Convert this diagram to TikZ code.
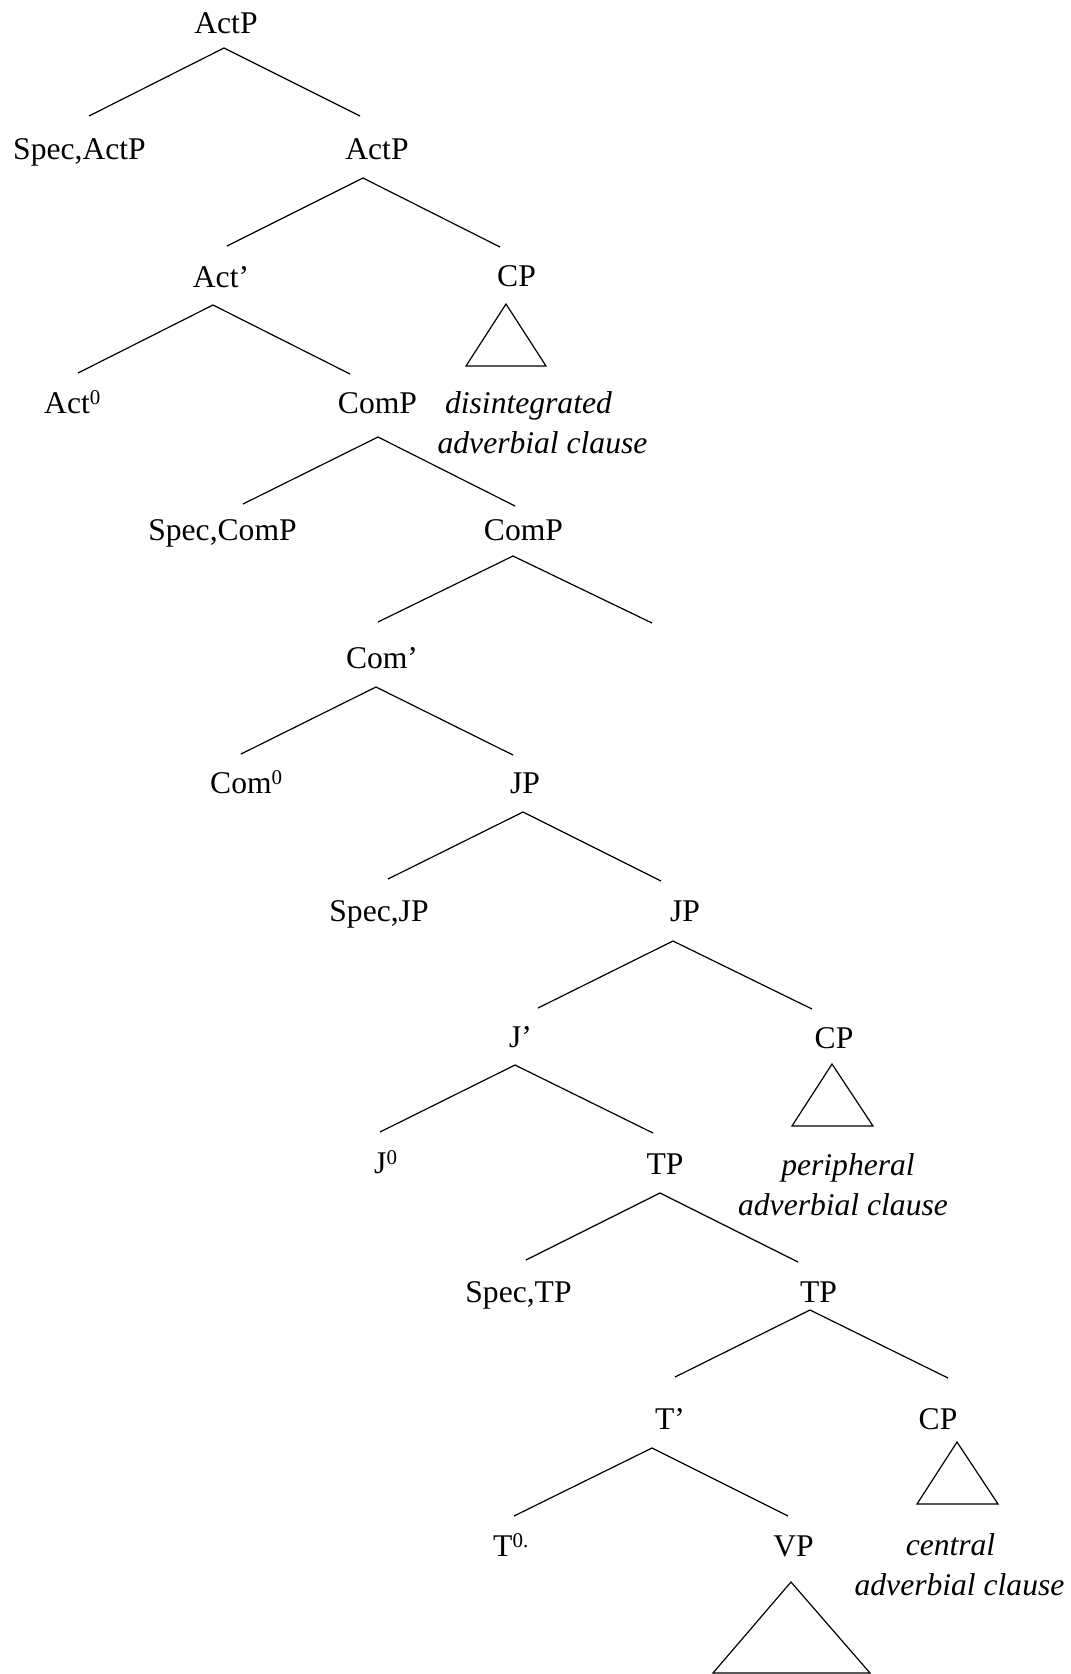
\documentclass[tikz,border=0pt]{standalone}
\usepackage{fontspec}
\setmainfont{Liberation Serif}
\newcommand{\supz}[1]{\raisebox{9pt}{\fontsize{21}{22}\selectfont #1}}
\begin{document}
\begin{tikzpicture}[x=1pt,y=-1pt,
  lbl/.style={anchor=base, inner sep=0pt, font=\fontsize{31.6}{38}\selectfont},
  lblw/.style={lbl, anchor=base west},
  itl/.style={lbl, font=\fontsize{31.6}{38}\selectfont\itshape},
  branch/.style={line width=1.2pt},
  tri/.style={line width=1.2pt, line join=miter}]
\useasboundingbox (0,0) rectangle (1071,1674);

% labels
\node[lbl]  (actp)    at (226,33)    {ActP};
\node[lbl]  (specact) at (79.5,159)  {Spec,ActP};
\node[lbl]  (actpb)   at (377,159)   {ActP};
\node[lbl]  (actbar)  at (221,287)   {Act’};
\node[lbl]  (cpa)     at (516.5,286) {CP};
\node[lblw] (acthead) at (44,413)    {Act\supz{0}};
\node[lbl]  (compa)   at (377.5,413) {ComP};
\node[itl]  (disa)    at (528.5,413) {disintegrated};
\node[itl]  (disb)    at (542.5,453) {adverbial clause};
\node[lbl]  (speccom) at (222.5,540) {Spec,ComP};
\node[lbl]  (compb)   at (523.5,540) {ComP};
\node[lbl]  (combar)  at (382,668)   {Com’};
\node[lblw] (comhead) at (210,793)   {Com\supz{0}};
\node[lbl]  (jpa)     at (525,793)   {JP};
\node[lbl]  (specjp)  at (379,921)   {Spec,JP};
\node[lbl]  (jpb)     at (685,921)   {JP};
\node[lbl]  (jbar)    at (520.5,1047){J’};
\node[lbl]  (cpb)     at (834,1048)  {CP};
\node[lblw] (jhead)   at (374,1173)  {J\supz{0}};
\node[lbl]  (tpa)     at (665,1174)  {TP};
\node[itl]  (pera)    at (848,1175)  {peripheral};
\node[itl]  (perb)    at (843,1215)  {adverbial clause};
\node[lbl]  (spectp)  at (518.5,1302){Spec,TP};
\node[lbl]  (tpb)     at (818.5,1302){TP};
\node[lbl]  (tbar)    at (670,1429)  {T’};
\node[lbl]  (cpc)     at (938,1429)  {CP};
\node[lblw] (thead)   at (493,1556)  {T\supz{0.}};
\node[lbl]  (vp)      at (793.5,1556){VP};
\node[itl]  (cena)    at (950.5,1555){central};
\node[itl]  (cenb)    at (959.5,1595){adverbial clause};

% branch points
\coordinate (actp-a)  at (224,48);   \coordinate (actp-l)  at (89,116);   \coordinate (actp-r)  at (360,116);
\coordinate (actpb-a) at (363,178);  \coordinate (actpb-l) at (227,246);  \coordinate (actpb-r) at (500,247);
\coordinate (actbar-a) at (213,305); \coordinate (actbar-l) at (78,373);  \coordinate (actbar-r) at (350,374);
\coordinate (compa-a) at (378,437);  \coordinate (compa-l) at (243,504);  \coordinate (compa-r) at (515,506);
\coordinate (compb-a) at (513,556);  \coordinate (compb-l) at (378,622);  \coordinate (compb-r) at (652,623);
\coordinate (combar-a) at (376,687); \coordinate (combar-l) at (241,754); \coordinate (combar-r) at (513,755);
\coordinate (jpa-a)   at (523,812);  \coordinate (jpa-l)   at (388,879);  \coordinate (jpa-r)   at (661,881);
\coordinate (jpb-a)   at (673,941);  \coordinate (jpb-l)   at (538,1008); \coordinate (jpb-r)   at (812,1009);
\coordinate (jbar-a)  at (515,1065); \coordinate (jbar-l)  at (380,1132); \coordinate (jbar-r)  at (653,1133);
\coordinate (tpa-a)   at (660,1193); \coordinate (tpa-l)   at (526,1260); \coordinate (tpa-r)   at (798,1262);
\coordinate (tpb-a)   at (810,1310); \coordinate (tpb-l)   at (675,1377); \coordinate (tpb-r)   at (948,1378);
\coordinate (tbar-a)  at (652,1448); \coordinate (tbar-l)  at (514,1516); \coordinate (tbar-r)  at (788,1516);

\foreach \n in {actp,actpb,actbar,compa,compb,combar,jpa,jpb,jbar,tpa,tpb,tbar}
  \draw[branch] (\n-l) -- (\n-a) -- (\n-r);

% triangles
\coordinate (cpa-t) at (506,304);  \coordinate (cpa-bl) at (466,366);  \coordinate (cpa-br) at (546,366);
\coordinate (cpb-t) at (832,1064); \coordinate (cpb-bl) at (792,1126); \coordinate (cpb-br) at (873,1126);
\coordinate (cpc-t) at (957,1442); \coordinate (cpc-bl) at (917,1504); \coordinate (cpc-br) at (998,1504);
\coordinate (vp-t)  at (791,1582); \coordinate (vp-bl)  at (713,1673); \coordinate (vp-br)  at (870,1673);
\foreach \n in {cpa,cpb,cpc,vp}
  \draw[tri] (\n-t) -- (\n-bl) -- (\n-br) -- cycle;
\end{tikzpicture}
\end{document}
